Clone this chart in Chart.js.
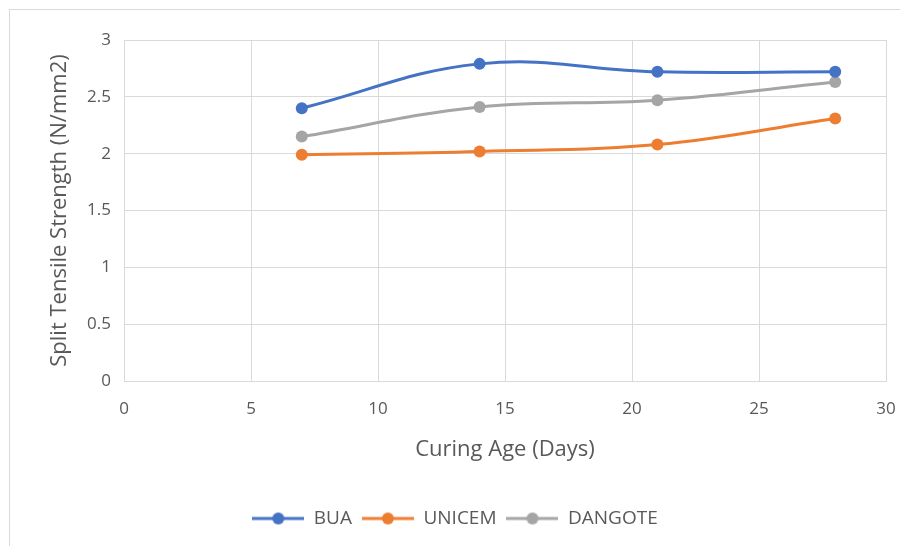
<!DOCTYPE html>
<html>
<head>
<meta charset="utf-8">
<script src="https://cdn.jsdelivr.net/npm/chart.js@4/dist/chart.umd.min.js"></script>
<style>
  html, body { margin: 0; padding: 0; background: #fff; }
  #wrap { position: relative; width: 900px; height: 546px; }
  #frame { position: absolute; left: 9px; top: 9px; right: 0; bottom: 0; border-left: 1px solid #d9d9d9; border-top: 1px solid #d9d9d9; }
  canvas { position: absolute; left: 0; top: 0; }
</style>
</head>
<body>
<div id="wrap">
  <div id="frame"></div>
  <canvas id="chart" width="900" height="546"></canvas>
</div>
<script>
// data
const curingDays = [7, 14, 21, 28];
const buaValues = [2.4, 2.79, 2.72, 2.72];
const unicemValues = [1.99, 2.02, 2.08, 2.31];
const dangoteValues = [2.15, 2.41, 2.47, 2.63];

const seriesNames = ['BUA', 'UNICEM', 'DANGOTE'];
const seriesColors = ['#4472C4', '#ED7D31', '#A5A5A5'];
const textColor = '#595959';
const gridColor = '#d9d9d9';
const fontFamily = "'Open Sans', sans-serif";

function toPoints(values) {
  return curingDays.map((d, i) => ({ x: d, y: values[i] }));
}

// legend marker: line with a dot in the middle
function legendMarker(color) {
  const c = document.createElement('canvas');
  c.width = 52;
  c.height = 14;
  const g = c.getContext('2d');
  g.strokeStyle = color;
  g.lineWidth = 3;
  g.beginPath();
  g.moveTo(0, 7);
  g.lineTo(52, 7);
  g.stroke();
  g.fillStyle = color;
  g.beginPath();
  g.arc(26, 7, 6, 0, Math.PI * 2);
  g.fill();
  return c;
}

// the legend sits a little right of centre in the original
const legendShift = {
  id: 'legendShift',
  afterLayout(chart) {
    if (chart.legend) {
      chart.legend.left += 12;
      chart.legend.right += 12;
    }
  }
};

const allValues = [buaValues, unicemValues, dangoteValues];

new Chart(document.getElementById('chart'), {
  type: 'line',
  data: {
    datasets: seriesNames.map((name, i) => ({
      label: name,
      data: toPoints(allValues[i]),
      borderColor: seriesColors[i],
      backgroundColor: seriesColors[i],
      pointBackgroundColor: seriesColors[i],
      pointBorderColor: seriesColors[i],
      borderWidth: 3,
      pointRadius: 6,
      pointBorderWidth: 0,
      tension: 0.4,
      fill: false
    }))
  },
  plugins: [legendShift],
  options: {
    responsive: false,
    animation: false,
    layout: { padding: { left: 0, right: 14, top: 40, bottom: 8 } },
    plugins: {
      tooltip: { enabled: false },
      legend: {
        position: 'bottom',
        labels: {
          color: textColor,
          font: { family: fontFamily, size: 19 },
          usePointStyle: true,
          pointStyleWidth: 52,
          padding: 10,
          generateLabels: function (chart) {
            return chart.data.datasets.map((ds, i) => ({
              text: ds.label,
              fillStyle: ds.borderColor,
              strokeStyle: ds.borderColor,
              fontColor: textColor,
              pointStyle: legendMarker(ds.borderColor),
              datasetIndex: i,
              hidden: false,
              lineWidth: 0
            }));
          }
        }
      }
    },
    scales: {
      x: {
        type: 'linear',
        min: 0,
        max: 30,
        ticks: {
          stepSize: 5,
          color: textColor,
          font: { family: fontFamily, size: 17 },
          padding: 18,
          maxRotation: 0
        },
        grid: { color: gridColor, drawTicks: false },
        border: { color: gridColor },
        title: {
          display: true,
          text: 'Curing Age (Days)',
          color: textColor,
          font: { family: fontFamily, size: 22 },
          padding: { top: 0, bottom: 36 }
        },
        afterFit: function (scale) {
          scale.height = 118;
          scale.paddingLeft = 0;
          scale.paddingRight = 0;
        }
      },
      y: {
        min: 0,
        max: 3,
        ticks: {
          stepSize: 0.5,
          color: textColor,
          font: { family: fontFamily, size: 17 },
          padding: 13,
          callback: function (value) { return String(+value.toFixed(1)); }
        },
        grid: { color: gridColor, drawTicks: false },
        border: { color: gridColor },
        title: {
          display: true,
          text: 'Split Tensile Strength (N/mm2)',
          color: textColor,
          font: { family: fontFamily, size: 22 },
          padding: { top: 47, bottom: 0 }
        },
        afterFit: function (scale) { scale.width = 124; }
      }
    }
  }
});
</script>
</body>
</html>
